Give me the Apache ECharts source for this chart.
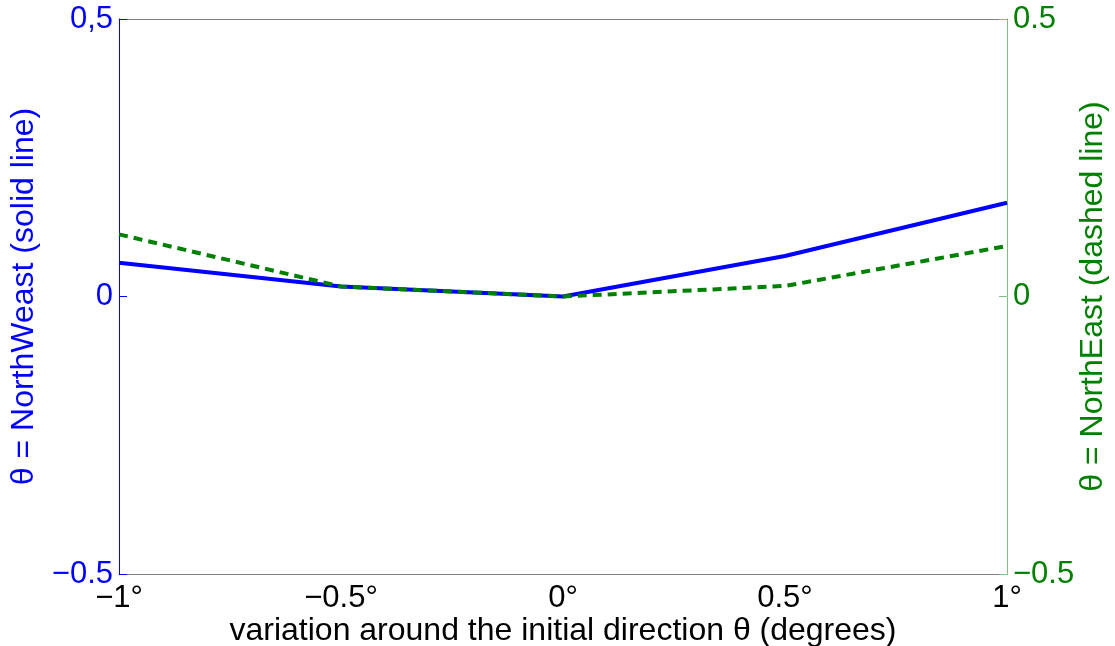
<!DOCTYPE html>
<html>
<head>
<meta charset="utf-8">
<script src="https://cdn.jsdelivr.net/npm/echarts@6/dist/echarts.min.js"></script>
<style>
  html, body { margin: 0; padding: 0; background: #fff; }
  #chart { width: 1115px; height: 646px; }
</style>
</head>
<body>
<div id="chart"></div>
<script>
// offsets around the initial direction, in degrees
const offsets = [-1, -0.5, 0, 0.5, 1];
const northWest = [0.061, 0.018, 0, 0.073, 0.169];
const northEast = [0.112, 0.018, 0, 0.019, 0.091];
const leftTickLabels = { '0.5': '0,5', '0': '0', '-0.5': '\u22120.5' };
const rightTickLabels = { '0.5': '0.5', '0': '0', '-0.5': '\u22120.5' };

const FONT = '"Liberation Sans", Arial, sans-serif';
const BLUE = '#0000ff';
const GREEN = '#008000';
const TICK_SIZE = 31;
const NAME_SIZE = 32;

const minus = v => String(v).replace('-', '\u2212');

const chart = echarts.init(document.getElementById('chart'), null, { renderer: 'canvas' });

chart.setOption({
  animation: false,
  backgroundColor: '#fff',
  textStyle: { fontFamily: FONT },
  grid: {
    left: 119,
    right: 108,
    top: 19,
    bottom: 72,
    containLabel: false,
    outerBoundsMode: 'none'
  },
  xAxis: [
    {
      type: 'value',
      position: 'bottom',
      min: -1,
      max: 1,
      interval: 0.5,
      name: 'variation around the initial direction \u03b8 (degrees)',
      nameLocation: 'middle',
      nameGap: 41,
      nameMoveOverlap: false,
      nameTextStyle: { color: '#000', fontSize: NAME_SIZE, fontFamily: FONT },
      axisLine: { show: true, onZero: false, lineStyle: { color: '#808080', width: 1 } },
      axisTick: { show: false },
      splitLine: { show: false },
      axisLabel: {
        color: '#000',
        fontSize: TICK_SIZE,
        fontFamily: FONT,
        margin: 9,
        formatter: v => minus(v) + '\u00b0'
      }
    },
    {
      // top frame edge
      type: 'value',
      position: 'top',
      min: -1,
      max: 1,
      interval: 0.5,
      axisLine: { show: true, onZero: false, lineStyle: { color: '#808080', width: 1 } },
      axisTick: { show: false },
      axisLabel: { show: false },
      splitLine: { show: false }
    }
  ],
  yAxis: [
    {
      type: 'value',
      position: 'left',
      min: -0.5,
      max: 0.5,
      interval: 0.5,
      name: '\u03b8 = NorthWeast (solid line)',
      nameLocation: 'middle',
      nameRotate: 90,
      nameGap: 79,
      nameMoveOverlap: false,
      nameTextStyle: { color: BLUE, fontSize: NAME_SIZE, fontFamily: FONT },
      axisLine: { show: true, onZero: false, lineStyle: { color: BLUE, width: 1 } },
      axisTick: { show: true, inside: true, length: 8, lineStyle: { color: BLUE } },
      splitLine: { show: false },
      axisLabel: {
        color: BLUE,
        fontSize: TICK_SIZE,
        fontFamily: FONT,
        margin: 6,
        formatter: v => leftTickLabels[String(v)] || minus(v)
      }
    },
    {
      type: 'value',
      position: 'right',
      min: -0.5,
      max: 0.5,
      interval: 0.5,
      name: '\u03b8 = NorthEast (dashed line)',
      nameLocation: 'middle',
      nameRotate: 90,
      nameGap: 70,
      nameMoveOverlap: false,
      nameTextStyle: { color: GREEN, fontSize: NAME_SIZE, fontFamily: FONT },
      axisLine: { show: true, onZero: false, lineStyle: { color: '#80c080', width: 1 } },
      axisTick: { show: true, inside: true, length: 8, lineStyle: { color: '#80c080' } },
      splitLine: { show: false },
      axisLabel: {
        color: GREEN,
        fontSize: TICK_SIZE,
        fontFamily: FONT,
        margin: 6,
        formatter: v => rightTickLabels[String(v)] || minus(v)
      }
    }
  ],
  series: [
    {
      name: 'NorthWeast',
      type: 'line',
      yAxisIndex: 0,
      data: offsets.map((x, i) => [x, northWest[i]]),
      symbol: 'none',
      lineStyle: { color: BLUE, width: 4 },
      z: 2
    },
    {
      name: 'NorthEast',
      type: 'line',
      yAxisIndex: 1,
      data: offsets.map((x, i) => [x, northEast[i]]),
      symbol: 'none',
      lineStyle: { color: GREEN, width: 4, type: [9, 6] },
      z: 3
    }
  ]
});
</script>
</body>
</html>
